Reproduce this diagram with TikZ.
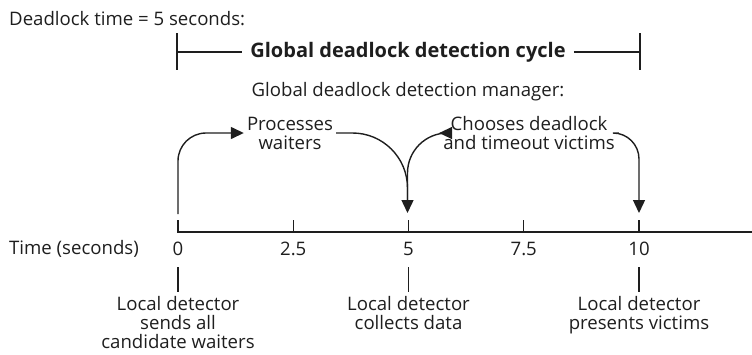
\documentclass[tikz,border=0pt]{standalone}
\usepackage{fontspec}
\setmainfont{Open Sans}
\usetikzlibrary{arrows.meta}
\definecolor{ink}{HTML}{1E1E1E}
\begin{document}
\begin{tikzpicture}[x=1pt,y=-1pt,
  every node/.style={text=ink, inner sep=0pt},
  txt/.style={font=\fontsize{18.6}{19}\selectfont},
  ttl/.style={font=\fontsize{20}{22}\selectfont\bfseries},
  ln/.style={draw=ink, line width=1.4pt},
  arr/.style={ln, -{Triangle[width=12pt,length=13pt]}}]
\useasboundingbox (0,0) rectangle (752,354);
% header
\node[txt, anchor=west] (dl) at (9,19) {Deadlock time = 5 seconds:};
\node[ttl, inner xsep=8pt] (cyc) at (408,52) {Global deadlock detection cycle};
\coordinate (blt) at (177,33); \coordinate (blb) at (177,70);
\coordinate (brt) at (640,33); \coordinate (brb) at (640,70);
\coordinate (bl) at (177,52); \coordinate (br) at (640,52);
\draw[ln] (blt) -- (blb);
\draw[ln] (brt) -- (brb);
\draw[ln] (bl) -- (cyc.west);
\draw[ln] (cyc.east) -- (br);
\node[txt] (mgr) at (408,92) {Global deadlock detection manager:};
\node[txt, align=center, inner xsep=3pt] (proc) at (290,133) {Processes\\waiters};
\node[txt, align=center, inner xsep=4pt] (cho) at (529,133) {Chooses deadlock\\and timeout victims};
% axis
\coordinate (ax0) at (177,232); \coordinate (axE) at (752,232);
\draw[ln] (ax0) -- (axE);
\foreach \i/\v/\x in {0/0/178, 1/2.5/293.25, 2/5/408.5, 3/7.5/523.75, 4/10/639} {
  \coordinate (tt\i) at (\x,220);
  \coordinate (tb\i) at (\x,232);
  \draw[ln] (tt\i) -- (tb\i);
  \node[txt] (lab\i) at (\x,249) {\v};
}
\node[txt, anchor=west] (time) at (9,249) {Time (seconds)};
% arrows
\coordinate (s0) at (178,214);
\coordinate (e5) at (407.5,213);
\coordinate (s5) at (407.5,205);
\coordinate (e10) at (639,213);
\draw[arr, rounded corners=28pt] (s0) |- (proc.west);
\draw[arr, rounded corners=55pt] (proc.east) -| (e5);
\draw[arr, rounded corners=40pt] (s5) |- (cho.west);
\draw[arr, rounded corners=26pt] (cho.east) -| (e10);
% lower
\foreach \i/\x in {0/178, 2/408.5, 4/639} {
  \coordinate (lt\i) at (\x,267);
  \coordinate (lb\i) at (\x,292);
  \draw[ln] (lt\i) -- (lb\i);
}
\node[txt, align=center, anchor=north] (d0) at (178,296) {Local detector\\sends all\\candidate waiters};
\node[txt, align=center, anchor=north] (d5) at (408.5,296) {Local detector\\collects data};
\node[txt, align=center, anchor=north] (d10) at (639,296) {Local detector\\presents victims};
\end{tikzpicture}
\end{document}
